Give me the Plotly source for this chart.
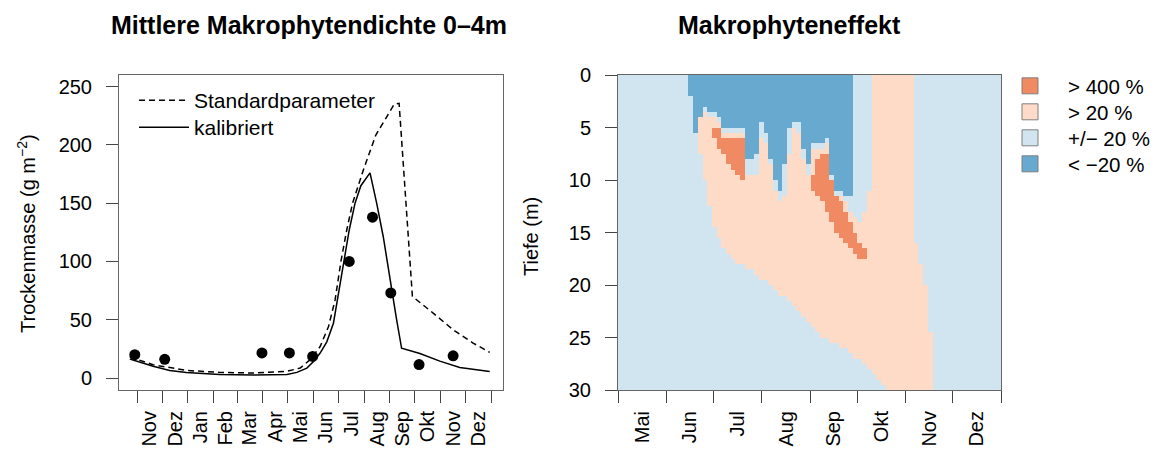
import pandas as pd
import plotly.graph_objects as go

W, H = 1155, 451
FONT = "Liberation Sans, Arial, Helvetica, sans-serif"

# ---------------- left panel: Mittlere Makrophytendichte ----------------
obs_dates = ["2005-10-29", "2005-12-04", "2006-03-31", "2006-05-03", "2006-05-31",
             "2006-07-14", "2006-08-11", "2006-09-02", "2006-10-06", "2006-11-16"]
obs_values = [20, 16, 21.5, 21.5, 18.5, 100, 138, 73, 11.5, 19]

kal_dates = ["2005-10-23", "2005-11-20", "2005-12-10", "2005-12-30", "2006-02-08",
             "2006-03-21", "2006-04-30", "2006-05-12", "2006-05-24", "2006-06-01",
             "2006-06-09", "2006-06-17", "2006-06-25", "2006-07-01", "2006-07-07",
             "2006-07-14", "2006-07-21", "2006-07-28", "2006-08-08", "2006-08-16",
             "2006-08-24", "2006-09-01", "2006-09-09", "2006-09-15", "2006-10-07",
             "2006-10-31", "2006-11-24", "2006-12-30"]
kal_values = [16.3, 10.0, 6.5, 4.8, 3.1, 2.6, 3.1, 4.8, 8.5, 14.2,
              21.4, 31, 47, 72, 100, 127, 150, 165, 176, 150,
              121, 84, 50, 25.5, 21, 14.5, 9, 5.5]

std_dates = ["2005-10-23", "2005-11-20", "2005-12-30", "2006-02-08", "2006-03-21",
             "2006-04-30", "2006-05-16", "2006-05-28", "2006-06-09", "2006-06-19",
             "2006-06-27", "2006-07-04", "2006-07-11", "2006-07-18", "2006-07-31",
             "2006-08-15", "2006-08-27", "2006-09-06", "2006-09-12", "2006-09-28",
             "2006-10-23", "2006-11-16", "2006-12-10", "2006-12-30"]
std_values = [18, 11.4, 6.5, 4.8, 4.3, 5.7, 8.6, 15.7, 27, 44,
              67, 100, 127, 150, 178.5, 208.5, 222.8, 234.8, 235.7, 70,
              55.7, 41.4, 30, 22]

left_month_names = ["Nov", "Dez", "Jan", "Feb", "Mar", "Apr", "Mai", "Jun",
                    "Jul", "Aug", "Sep", "Okt", "Nov", "Dez"]
left_yticks = [0, 50, 100, 150, 200, 250]

# ---------------- right panel: Makrophyteneffekt ----------------
# columns of 3 days, counted in days from 1 May; depth cells of 0.5 m
col_day = list(range(45, 199, 3))
blue_bottom = [2.0, 5.5, 3.8, 2.9, 3.5, 3.6, 3.8, 4.9, 4.9, 4.9,
               4.9, 5.0, 8.0, 8.0, 7.5, 4.6, 5.5, 8.0, 10.0, 11.0,
               8.5, 5.0, 4.4, 4.4, 7.0, 8.7, 6.5, 6.5, 6.3, 6.1,
               9.5, 10.8, 11.0, 11.4, 11.4, 0, 0, 0, 0, 0,
               0, 0, 0, 0, 0, 0, 0, 0, 0, 0,
               0, 0]
peach_top = [0, 0, 4.2, 3.3, 3.9, 4.0, 4.3, 5.4, 5.4, 5.4,
             5.4, 5.5, 9.5, 9.5, 9.3, 6.0, 6.5, 8.6, 10.8, 11.8,
             11.5, 7.5, 5.2, 5.5, 8.0, 9.3, 7.0, 7.0, 6.8, 6.6,
             10.0, 11.3, 11.6, 12.2, 13.0, 13.5, 14.0, 12.8, 11.0, 0,
             0, 0, 0, 0, 0, 0, 0, 0, 16.0, 18.0,
             19.8, 24.5]
peach_bottom = [0, 0, 7.5, 10.0, 12.3, 14.5, 15.5, 16.3, 17.0, 17.5,
                17.8, 18.1, 18.4, 18.7, 19.0, 19.3, 19.6, 20.0, 20.4, 20.8,
                21.2, 21.6, 21.9, 22.4, 22.9, 23.3, 23.9, 24.4, 24.9, 25.2,
                25.5, 25.7, 26.0, 26.2, 26.5, 26.9, 27.2, 27.6, 28.0, 28.6,
                29.0, 29.5, 30, 30, 30, 30, 30, 30, 30, 30,
                30, 30]
orange_top = [0, 0, 0, 0, 0, 5.0, 5.2, 5.8, 5.8, 5.8,
              5.8, 5.9, 0, 0, 0, 0, 0, 0, 0, 0,
              0, 0, 0, 0, 0, 0, 9.5, 8.2, 7.6, 7.5,
              10.0, 11.3, 12.0, 13.0, 14.0, 14.8, 15.8, 16.6, 0, 0,
              0, 0, 0, 0, 0, 0, 0, 0, 0, 0,
              0, 0]
orange_bottom = [0, 0, 0, 0, 0, 6.2, 7.0, 7.6, 8.3, 9.0,
                 9.5, 10.0, 0, 0, 0, 0, 0, 0, 0, 0,
                 0, 0, 0, 0, 0, 0, 10.8, 11.5, 12.1, 13.0,
                 14.0, 15.0, 15.7, 16.2, 16.6, 17.2, 17.5, 17.5, 0, 0,
                 0, 0, 0, 0, 0, 0, 0, 0, 0, 0,
                 0, 0]

right_month_names = ["Mai", "Jun", "Jul", "Aug", "Sep", "Okt", "Nov", "Dez"]
right_yticks = [0, 5, 10, 15, 20, 25, 30]
categories = ["&gt; 400 %", "&gt; 20 %", "+/\u2212 20 %", "&lt; \u221220 %"]
cat_colors = ["#EF8A62", "#FDDBC7", "#D1E5F0", "#67A9CF"]

# ---------------- build grid ----------------
season_start = pd.Timestamp("2006-05-01")
season_end = pd.Timestamp("2007-01-01")
n_days = (season_end - season_start).days
col_width, row_height, max_depth = 3, 0.5, 30
n_cols = -(-n_days // col_width)
n_rows = int(max_depth / row_height)
x_centers = [col_width * i + col_width / 2 for i in range(n_cols)]
y_centers = [row_height * j + row_height / 2 for j in range(n_rows)]
z = [[2] * n_cols for _ in range(n_rows)]
for k, d in enumerate(col_day):
    i = d // col_width
    for j, yc in enumerate(y_centers):
        if yc < blue_bottom[k]:
            c = 3
        elif peach_top[k] <= yc < peach_bottom[k]:
            c = 0 if orange_top[k] <= yc < orange_bottom[k] else 1
        else:
            c = 2
        z[j][i] = c

colorscale = []
for c, col in enumerate(cat_colors):
    colorscale.append([max(0, (c - 0.5) / 3), col])
    colorscale.append([min(1, (c + 0.5) / 3), col])

# ---------------- ticks ----------------
lm_starts = pd.date_range("2005-11-01", "2007-01-01", freq="MS")
lm_mids = [a + (b - a) / 2 for a, b in zip(lm_starts[:-1], lm_starts[1:])]
rm_starts_dt = pd.date_range(season_start, season_end, freq="MS")
rm_starts = [(t - season_start).days for t in rm_starts_dt]
rm_mids = [(a + b) / 2 for a, b in zip(rm_starts[:-1], rm_starts[1:])]


def px_x(p):
    return p / W


def px_y(p):
    return (H - p) / H


fig = go.Figure()
fig.add_trace(go.Scatter(x=std_dates, y=std_values, mode="lines", name="Standardparameter",
                         line=dict(color="black", width=1.5, dash="6px,4px"), legend="legend"))
fig.add_trace(go.Scatter(x=kal_dates, y=kal_values, mode="lines", name="kalibriert",
                         line=dict(color="black", width=1.5), legend="legend2"))
fig.add_trace(go.Scatter(x=obs_dates, y=obs_values, mode="markers", showlegend=False,
                         marker=dict(color="black", size=11)))
fig.add_trace(go.Heatmap(x=x_centers, y=y_centers, z=z, zmin=0, zmax=3, colorscale=colorscale,
                         showscale=False, hoverinfo="skip", xaxis="x2", yaxis="y2"))
for n, (name, col) in enumerate(zip(categories, cat_colors)):
    fig.add_trace(go.Scatter(x=[None], y=[None], mode="markers", name=name,
                             legend="legend%d" % (n + 3), xaxis="x2", yaxis="y2",
                             marker=dict(symbol="square", size=16, color=col,
                                         line=dict(color="#7f7f7f", width=1))))

frame = "#666666"
tickc = "#444444"
common_x = dict(showgrid=False, zeroline=False, showline=True, mirror=True, linecolor=frame,
                linewidth=1, ticks="outside", tickcolor="rgba(0,0,0,0)", ticklen=12,
                tickangle=-90, tickfont=dict(size=20, color="black", family=FONT))
common_y = dict(showgrid=False, zeroline=False, showline=True, mirror=True, linecolor=frame,
                linewidth=1, ticks="outside", tickcolor=tickc, ticklen=12,
                tickfont=dict(size=20, color="black", family=FONT), ticklabelstandoff=10)


def legend_at(x_px, row_px, size, width):
    return dict(x=px_x(x_px), y=px_y(row_px - 21), xanchor="left", yanchor="top",
                bgcolor="rgba(0,0,0,0)", itemwidth=width,
                font=dict(size=size, family=FONT, color="black"))


legend_rows_left = [101, 128]
legend_rows_right = [87, 113, 139, 165]
legends = {"legend": legend_at(134, legend_rows_left[0], 21, 50),
           "legend2": legend_at(134, legend_rows_left[1], 21, 50)}
for n, row in enumerate(legend_rows_right):
    legends["legend%d" % (n + 3)] = legend_at(992, row, 20.5, 66)

fig.update_layout(
    width=W, height=H, autosize=False,
    margin=dict(l=0, r=0, t=0, b=0, autoexpand=False),
    paper_bgcolor="white", plot_bgcolor="white",
    font=dict(family=FONT, color="black"),
    xaxis=dict(domain=[px_x(119), px_x(503)], anchor="y", type="date",
               range=["2005-10-10", "2007-01-15"],
               tickmode="array", tickvals=lm_mids, ticktext=left_month_names,
               minor=dict(tickmode="array", tickvals=list(lm_starts), ticks="outside", ticklen=12,
                          tickcolor=tickc, tickwidth=1, showgrid=False),
               **common_x),
    yaxis=dict(domain=[px_y(390), px_y(75)], anchor="x", range=[-10.3, 260],
               tickmode="array", tickvals=left_yticks, **common_y),
    xaxis2=dict(domain=[px_x(618), px_x(1001)], anchor="y2", range=[0, n_days],
                tickmode="array", tickvals=rm_mids, ticktext=right_month_names,
                minor=dict(tickmode="array", tickvals=rm_starts, ticks="outside", ticklen=12,
                           tickcolor=tickc, tickwidth=1, showgrid=False),
                **common_x),
    yaxis2=dict(domain=[px_y(390), px_y(75)], anchor="x2", range=[max_depth, 0],
                tickmode="array", tickvals=right_yticks, **common_y),
    annotations=[
        dict(text="<b>Mittlere Makrophytendichte 0\u20134m</b>", x=px_x(308.5), y=px_y(25),
             xref="paper", yref="paper", showarrow=False, xanchor="center", yanchor="middle",
             font=dict(size=25, family=FONT, color="black")),
        dict(text="<b>Makrophyteneffekt</b>", x=px_x(789.5), y=px_y(25),
             xref="paper", yref="paper", showarrow=False, xanchor="center", yanchor="middle",
             font=dict(size=25, family=FONT, color="black")),
        dict(text="Trockenmasse (g m<sup>\u22122</sup>)", x=px_x(27), y=px_y(234), textangle=-90,
             xref="paper", yref="paper", showarrow=False, xanchor="center", yanchor="middle",
             font=dict(size=20, family=FONT, color="black")),
        dict(text="Tiefe (m)", x=px_x(531), y=px_y(237), textangle=-90,
             xref="paper", yref="paper", showarrow=False, xanchor="center", yanchor="middle",
             font=dict(size=20, family=FONT, color="black")),
    ],
    **legends,
)

fig.write_html("out.html", config={"displayModeBar": False},
               post_script="document.body.style.margin='0';")
